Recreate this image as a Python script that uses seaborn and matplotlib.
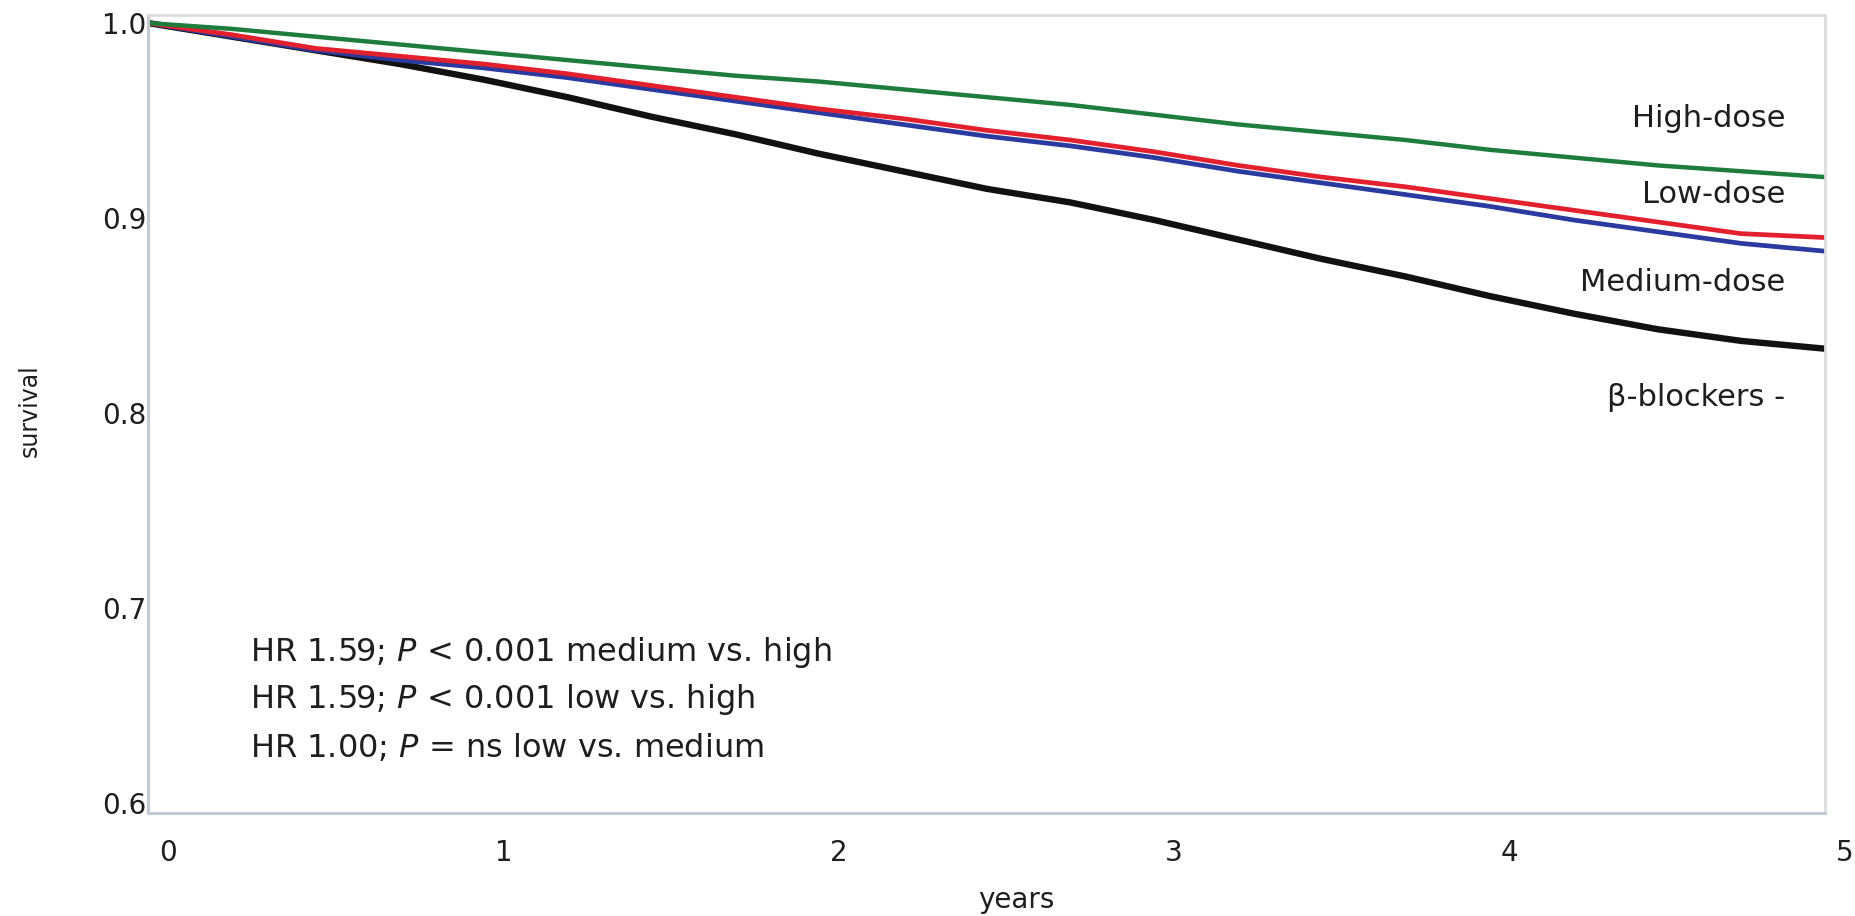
import matplotlib
matplotlib.use('Agg')
import matplotlib.pyplot as plt
import matplotlib.transforms as mtransforms
import pandas as pd
import seaborn as sns

# survival, every quarter year
years = [0, 0.25, 0.5, 0.75, 1.0, 1.25, 1.5, 1.75, 2.0, 2.25, 2.5,
         2.75, 3.0, 3.25, 3.5, 3.75, 4.0, 4.25, 4.5, 4.75, 5.0]
high_dose = [1.000, 0.997, 0.993, 0.989, 0.985, 0.981, 0.977, 0.973, 0.970, 0.966, 0.962,
             0.958, 0.953, 0.948, 0.944, 0.940, 0.935, 0.931, 0.927, 0.924, 0.921]
low_dose = [1.000, 0.994, 0.987, 0.983, 0.979, 0.974, 0.968, 0.962, 0.956, 0.951, 0.945,
            0.940, 0.934, 0.927, 0.921, 0.916, 0.910, 0.904, 0.898, 0.892, 0.890]
medium_dose = [1.000, 0.993, 0.986, 0.981, 0.977, 0.972, 0.966, 0.960, 0.954, 0.948, 0.942,
               0.937, 0.931, 0.924, 0.918, 0.912, 0.906, 0.899, 0.893, 0.887, 0.883]
no_bb = [1.000, 0.993, 0.986, 0.979, 0.971, 0.962, 0.952, 0.943, 0.933, 0.924, 0.915,
         0.908, 0.899, 0.889, 0.879, 0.870, 0.860, 0.851, 0.843, 0.837, 0.833]

groups = ['β-blockers -', 'Medium-dose', 'Low-dose', 'High-dose']
group_label_y = [0.808, 0.867, 0.912, 0.951]
hr_text = [r'HR 1.59; $\it{P}$ < 0.001 medium vs. high',
           r'HR 1.59; $\it{P}$ < 0.001 low vs. high',
           r'HR 1.00; $\it{P}$ = ns low vs. medium']
hr_y = [0.677, 0.653, 0.628]
xtick_labels = ['0', '1', '2', '3', '4', '5']
ytick_vals = [0.6, 0.7, 0.8, 0.9, 1.0]
ytick_labels = ['0.6', '0.7', '0.8', '0.9', '1.0']

df = pd.concat([
    pd.DataFrame({'years': years, 'survival': vals, 'group': g})
    for g, vals in zip(groups, [no_bb, medium_dose, low_dose, high_dose])
])

sns.set_style('white')
plt.rcParams['font.family'] = ['DejaVu Sans']
plt.rcParams['mathtext.fontset'] = 'dejavusans'

fig = plt.figure(figsize=(18.56, 9.16), dpi=100)
ax = fig.add_axes([0.0797, 0.1124, 0.9036, 0.8712])

colors = {'β-blockers -': '#111111', 'Medium-dose': '#2b3a9e',
          'Low-dose': '#e3202d', 'High-dose': '#1e7d3c'}
widths = {'β-blockers -': 4.6, 'Medium-dose': 3.4, 'Low-dose': 3.4, 'High-dose': 3.2}
for g in groups:
    sns.lineplot(data=df[df['group'] == g], x='years', y='survival',
                 color=colors[g], lw=widths[g], estimator=None, ax=ax)

ax.set_xlim(0, 5)
ax.set_ylim(0.5949, 1.0041)
ax.set_xticks(range(6))
ax.set_xticklabels(xtick_labels)
ax.set_yticks(ytick_vals)
ax.set_yticklabels(ytick_labels)
ax.tick_params(axis='y', length=0, pad=1, labelsize=20, labelcolor='#1e1e1e')
ax.tick_params(axis='x', length=5, width=2, color='#c4c8cc', direction='out',
               pad=14, labelsize=20, labelcolor='#1e1e1e')

# labels sit a little right of their ticks in the original
shift = mtransforms.ScaledTranslation(0.2, 0, fig.dpi_scale_trans)
for lab in ax.xaxis.get_majorticklabels():
    lab.set_transform(lab.get_transform() + shift)

for side in ['left', 'bottom']:
    ax.spines[side].set_color('#c3cad1')
    ax.spines[side].set_linewidth(2.2)
for side in ['top', 'right']:
    ax.spines[side].set_color('#dddddd')
    ax.spines[side].set_linewidth(2.0)

ax.set_xlabel('years', fontsize=20, color='#1e1e1e')
ax.xaxis.set_label_coords(0.5176, -0.109)
ax.xaxis.label.set_va('center')
ax.set_ylabel('survival', fontsize=17, color='#1e1e1e')
ax.yaxis.set_label_coords(-0.0704, 0.504)
ax.yaxis.label.set_va('center')

for g, yv in zip(groups, group_label_y):
    ax.text(4.881, yv, g, ha='right', va='center', fontsize=22, color='#1e1e1e')

for t, yv in zip(hr_text, hr_y):
    ax.text(0.305, yv, t, ha='left', va='center', fontsize=23, color='#1e1e1e')

fig.savefig('out.png', dpi=100)
